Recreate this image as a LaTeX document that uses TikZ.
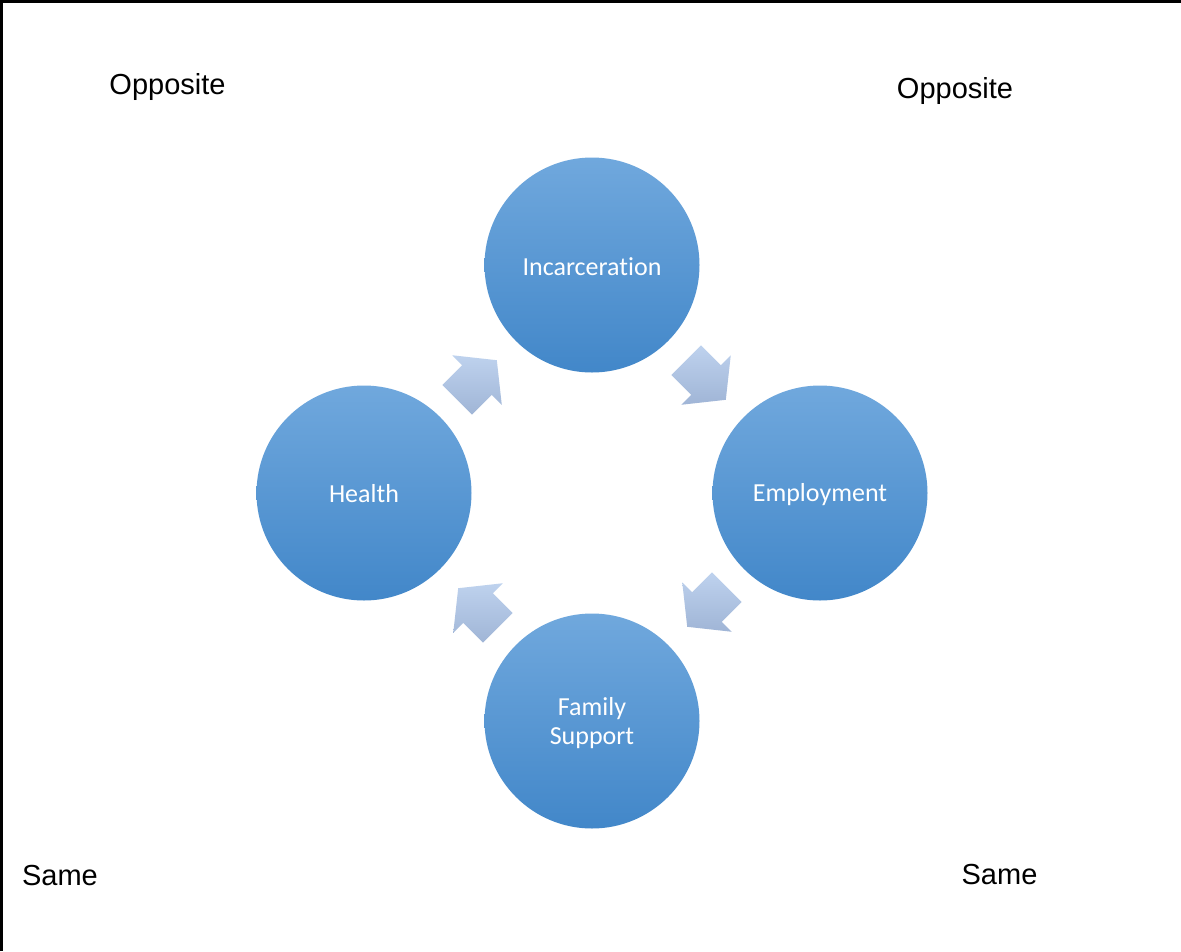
\documentclass[tikz,border=0pt]{standalone}
\usepackage{fontspec}
\setmainfont{Liberation Sans}
\newfontfamily\calib[Ligatures=NoCommon]{Carlito}
\begin{document}
\begin{tikzpicture}[x=1pt,y=-1pt,
  stage/.style={circle,minimum size=215pt,inner sep=0pt,top color=circTop,bottom color=circBot,draw=none},
  stagetext/.style={text=white,font=\calib\fontsize{26}{29}\selectfont,align=center},
  lbl/.style={font=\fontsize{29}{34}\selectfont,inner sep=0pt,anchor=center},
  blockarrow/.style={top color=arrTop,bottom color=arrBot,draw=none}
]
\definecolor{circTop}{RGB}{112,168,221}
\definecolor{circBot}{RGB}{66,135,201}
\definecolor{arrTop}{RGB}{190,210,238}
\definecolor{arrBot}{RGB}{160,181,214}
\useasboundingbox (0,0) rectangle (1181,951);
\fill[white] (0,0) rectangle (1181,951);
\draw[line width=2.5pt] (1.25,951) -- (1.25,1.25) -- (1181,1.25);

\node[stage] (inc) at (592,265) {};
\node[stage] (emp) at (820,493) {};
\node[stage] (fam) at (592,721) {};
\node[stage] (hea) at (364,493) {};
\node[stagetext] (tinc) at ([yshift=-2pt]inc.center) {Incarceration};
\node[stagetext] (temp) at ([yshift=-2pt]emp.center) {Employment};
\node[stagetext] (tfam) at ([yshift=-2pt]fam.center) {Family\\Support};
\node[stagetext] (thea) at ([yshift=-1pt]hea.center) {Health};

\coordinate (a1) at (477,380);
\coordinate (a2) at (706,380);
\coordinate (a3) at (707,607);
\coordinate (a4) at (478,608);

\foreach \c/\ang in {a1/45,a2/-45,a3/-135,a4/135}{
  \shade[blockarrow,shift={(\c)},rotate=\ang]
    (-28,-21) -- (0,-21) -- (0,-35) -- (28,0) -- (0,35) -- (0,21) -- (-28,21) -- cycle;
}

\node[lbl] (o1) at (167.5,87) {Opposite};
\node[lbl] (o2) at (955,91) {Opposite};
\node[lbl] (s1) at (60,876) {Same};
\node[lbl] (s2) at (999.5,875) {Same};
\end{tikzpicture}
\end{document}
